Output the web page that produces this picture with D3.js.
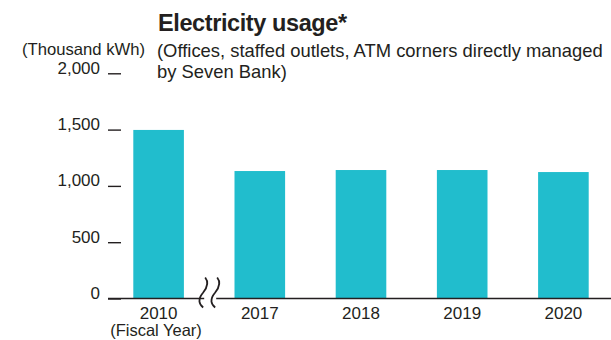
<!DOCTYPE html>
<html>
<head>
<meta charset="utf-8">
<script src="https://cdn.jsdelivr.net/npm/d3@7"></script>
<style>
  body { margin: 0; background: #fff; }
  text { font-family: "Liberation Sans", Arial, Helvetica, sans-serif; fill: #231f20; }
</style>
</head>
<body>
<svg width="611" height="340"></svg>
<script>
// fiscal years and electricity usage (thousand kWh)
var years = ['2010', '2017', '2018', '2019', '2020'];
var usage = [1497, 1132, 1141, 1141, 1123];
var yTicks = [0, 500, 1000, 1500, 2000];

var svg = d3.select('svg');
var width = +svg.attr('width');
var ink = '#231f20';

var xScale = d3.scaleBand()
  .domain(years)
  .range([108, 614])
  .paddingInner(0.5)
  .paddingOuter(0.25);

var yScale = d3.scaleLinear()
  .domain([0, 2000])
  .range([298.5, 73.3]);

// title + notes
svg.append('text')
  .attr('x', 158).attr('y', 31)
  .style('font-size', '23.5px').style('font-weight', 'bold')
  .style('letter-spacing', '-0.4px')
  .text('Electricity usage*');

svg.append('text')
  .attr('x', 22).attr('y', 55)
  .attr('textLength', 123)
  .attr('lengthAdjust', 'spacingAndGlyphs')
  .style('font-size', '16.5px')
  .text('(Thousand kWh)');

svg.append('text')
  .attr('x', 157).attr('y', 57)
  .style('font-size', '18.4px')
  .text('(Offices, staffed outlets, ATM corners directly managed');
svg.append('text')
  .attr('x', 157).attr('y', 78)
  .style('font-size', '18.4px')
  .text('by Seven Bank)');

// bars
svg.selectAll('rect.bar')
  .data(usage)
  .enter()
  .append('rect')
  .attr('class', 'bar')
  .attr('x', function(d, i){ return xScale(years[i]); })
  .attr('y', function(d){ return yScale(d); })
  .attr('width', xScale.bandwidth())
  .attr('height', function(d){ return yScale(0) - yScale(d); })
  .style('fill', '#21bdcd');

// y axis: short dashes to the right of the labels
var yAxis = d3.axisLeft(yScale)
  .tickValues(yTicks)
  .tickFormat(d3.format(','))
  .tickSize(-13)
  .tickPadding(8);
var gy = svg.append('g')
  .attr('transform', 'translate(108,0)')
  .call(yAxis);
gy.select('.domain').remove();
gy.selectAll('.tick line').attr('stroke', ink).attr('stroke-width', 1.4);
gy.selectAll('.tick text')
  .attr('dy', '0')
  .style('font-size', '17px')
  .style('font-family', '"Liberation Sans", Arial, sans-serif')
  .attr('fill', ink);

// baseline
svg.append('line')
  .attr('x1', 108).attr('x2', width)
  .attr('y1', yScale(0)).attr('y2', yScale(0))
  .attr('stroke', ink).attr('stroke-width', 1.5);

// x axis labels
var xAxis = d3.axisBottom(xScale).tickSize(0).tickPadding(8);
var gx = svg.append('g')
  .attr('transform', 'translate(0,' + yScale(0) + ')')
  .call(xAxis);
gx.select('.domain').remove();
gx.selectAll('.tick text')
  .style('font-size', '17px')
  .style('font-family', '"Liberation Sans", Arial, sans-serif')
  .attr('fill', ink);

svg.append('text')
  .attr('x', 156).attr('y', 336)
  .attr('text-anchor', 'middle')
  .style('font-size', '16.5px')
  .text('(Fiscal Year)');

// axis break between 2010 and 2017
var bx = (xScale('2010') + xScale.bandwidth() + xScale('2017')) / 2 + 1;
var by = yScale(0);
svg.append('rect')
  .attr('x', bx - 6).attr('y', by - 3)
  .attr('width', 12).attr('height', 6)
  .style('fill', '#fff');
// ")" on top, "(" below
var wave = function(cx){
  return 'M' + (cx + 1) + ',' + (by - 21)
    + ' C' + (cx + 5) + ',' + (by - 16)
    + ' ' + (cx + 3) + ',' + (by - 11)
    + ' ' + (cx - 1) + ',' + (by - 6)
    + ' C' + (cx - 7) + ',' + (by + 1)
    + ' ' + (cx - 5) + ',' + (by + 6)
    + ' ' + (cx - 1) + ',' + (by + 9);
};
svg.selectAll('path.brk')
  .data([bx - 6, bx + 6])
  .enter()
  .append('path')
  .attr('class', 'brk')
  .attr('d', function(d){ return wave(d); })
  .attr('fill', 'none')
  .attr('stroke', ink)
  .attr('stroke-width', 1.8);
</script>
</body>
</html>
